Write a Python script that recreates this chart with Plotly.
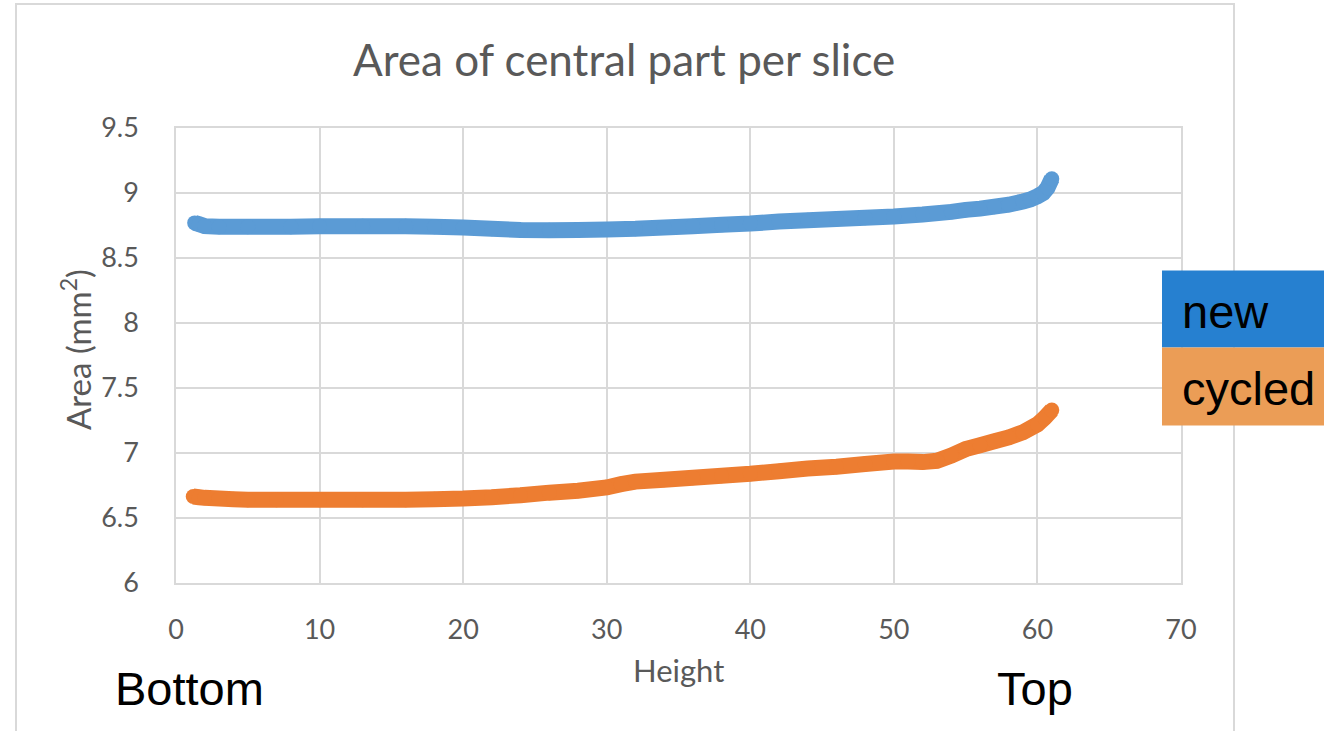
import plotly.graph_objects as go

# ---- data ----
new_height = [1.3, 1.6, 2, 3, 5, 8, 10, 13, 16, 18, 20, 22, 24, 26, 28, 30, 32, 34, 36, 38,
              40, 42, 44, 46, 48, 50, 52, 54, 55, 56, 57, 58, 59, 59.5, 60, 60.4, 60.7, 61]
new_area = [8.77, 8.76, 8.745, 8.74, 8.74, 8.74, 8.745, 8.745, 8.745, 8.74, 8.735, 8.725, 8.715,
            8.713, 8.715, 8.72, 8.725, 8.735, 8.745, 8.755, 8.765, 8.78, 8.79, 8.80, 8.81, 8.82,
            8.835, 8.855, 8.87, 8.88, 8.895, 8.91, 8.935, 8.95, 8.975, 9.0, 9.04, 9.11]

cycled_height = [1.2, 1.6, 2, 3, 4, 5, 7, 10, 13, 16, 18, 20, 22, 24, 26, 28, 30, 31, 32, 34,
                 36, 38, 40, 42, 44, 46, 48, 50, 51, 52, 53, 54, 55, 56, 57, 58, 59, 60, 60.5, 61]
cycled_area = [6.665, 6.66, 6.655, 6.65, 6.645, 6.64, 6.64, 6.64, 6.64, 6.64, 6.645, 6.65, 6.66,
               6.675, 6.695, 6.71, 6.735, 6.76, 6.78, 6.795, 6.81, 6.825, 6.84, 6.86, 6.88, 6.895,
               6.915, 6.935, 6.935, 6.93, 6.94, 6.98, 7.03, 7.06, 7.09, 7.12, 7.16, 7.22, 7.27, 7.33]

x_ticks = [0, 10, 20, 30, 40, 50, 60, 70]
y_ticks = [6, 6.5, 7, 7.5, 8, 8.5, 9, 9.5]

title_text = "Area of central part per slice"
x_title = "Height"
y_title = "Area (mm<sup>2</sup>)"
legend_labels = ["new", "cycled"]
end_labels = ["Bottom", "Top"]

BLUE = "#5b9bd5"
ORANGE = "#ed7d31"
GRID = "#d9d9d9"
TXT = "#595959"
FONT = "Lato"
SANS = "Liberation Sans"

# plot area pixels
W, H = 1324, 731
L, R, T, B = 176, 1181, 128, 583


def px(x):
    return (x - L) / (R - L)


def py(y):
    return (B - y) / (B - T)


fig = go.Figure()
fig.add_trace(go.Scatter(x=new_height, y=new_area, mode="lines+markers",
                         line=dict(color=BLUE, width=16, simplify=False),
                         marker=dict(color=BLUE, size=15, line=dict(width=0)),
                         name="new", showlegend=False))
fig.add_trace(go.Scatter(x=cycled_height, y=cycled_area, mode="lines+markers",
                         line=dict(color=ORANGE, width=16, simplify=False),
                         marker=dict(color=ORANGE, size=15, line=dict(width=0)),
                         name="cycled", showlegend=False))

shapes = [
    # chart border
    dict(type="rect", xref="paper", yref="paper", x0=px(16), x1=px(1234), y0=py(740), y1=py(4),
         line=dict(color="#d9d9d9", width=2), layer="below"),
    # legend boxes
    dict(type="rect", xref="paper", yref="paper", x0=px(1162), x1=px(1330), y0=py(347.5), y1=py(270.5),
         fillcolor="#2680d0", line=dict(width=0), layer="above"),
    dict(type="rect", xref="paper", yref="paper", x0=px(1162), x1=px(1330), y0=py(425.5), y1=py(347.5),
         fillcolor="#eb9d56", line=dict(width=0), layer="above"),
]

annotations = [
    dict(text=title_text, xref="paper", yref="paper", x=px(624), y=py(59), xanchor="center",
         yanchor="middle", showarrow=False, font=dict(family=FONT, size=44, color=TXT)),
    dict(text=x_title, xref="paper", yref="paper", x=px(678), y=py(670), xanchor="center",
         yanchor="middle", showarrow=False, font=dict(family=FONT, size=31, color=TXT)),
    dict(text=y_title, xref="paper", yref="paper", x=px(76), y=py(350), xanchor="center",
         yanchor="middle", showarrow=False, textangle=-90, font=dict(family=FONT, size=33, color=TXT)),
    dict(text=legend_labels[0], xref="paper", yref="paper", x=px(1180), y=py(311), xanchor="left",
         yanchor="middle", showarrow=False, font=dict(family=SANS, size=47, color="#000000")),
    dict(text=legend_labels[1], xref="paper", yref="paper", x=px(1180), y=py(388), xanchor="left",
         yanchor="middle", showarrow=False, font=dict(family=SANS, size=47, color="#000000")),
    dict(text=end_labels[0], xref="paper", yref="paper", x=px(113), y=py(688), xanchor="left",
         yanchor="middle", showarrow=False, font=dict(family=SANS, size=47, color="#000000")),
    dict(text=end_labels[1], xref="paper", yref="paper", x=px(995), y=py(688), xanchor="left",
         yanchor="middle", showarrow=False, font=dict(family=SANS, size=47, color="#000000")),
]

fig.update_layout(
    width=W, height=H,
    margin=dict(l=L, r=W - R, t=T, b=H - B, pad=0),
    paper_bgcolor="white", plot_bgcolor="white",
    shapes=shapes, annotations=annotations,
    showlegend=False,
)
fig.update_xaxes(range=[0, 70], tickvals=x_ticks, showgrid=True, gridcolor=GRID, gridwidth=1.5,
                 zeroline=False, showline=True, linecolor=GRID, linewidth=1.5, mirror=True,
                 ticks="", ticklabelstandoff=22, tickfont=dict(family=FONT, size=27, color=TXT))
fig.update_yaxes(range=[6, 9.5], tickvals=y_ticks, showgrid=True, gridcolor=GRID, gridwidth=1.5,
                 zeroline=False, showline=True, linecolor=GRID, linewidth=1.5, mirror=True,
                 ticks="", ticklabelstandoff=30, tickfont=dict(family=FONT, size=27, color=TXT))

fig.write_html("out.html", config={"displayModeBar": False},
               post_script="document.body.style.margin='0';document.body.style.overflow='hidden';")
